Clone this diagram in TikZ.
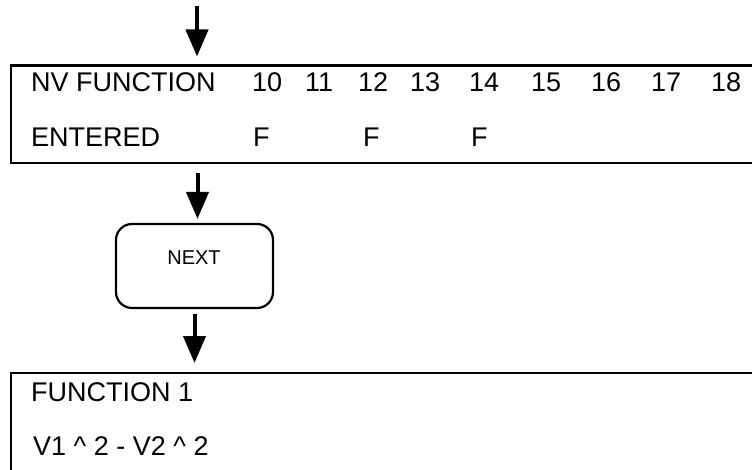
\documentclass[tikz,border=0pt]{standalone}
\usepackage{fontspec}
\setmainfont{Liberation Sans}
\usetikzlibrary{arrows.meta}

\begin{document}
\begin{tikzpicture}[x=1pt, y=-1pt,
  display/.style={draw, line width=2.4pt, rectangle, inner sep=0pt, anchor=north west, minimum width=800pt, minimum height=97.5pt},
  keybox/.style={draw, line width=2.2pt, rectangle, rounded corners=16pt, inner sep=0pt, minimum width=157pt, minimum height=84pt},
  txt/.style={anchor=base west, inner sep=0pt, font=\fontsize{27}{32}\selectfont},
  keytxt/.style={anchor=base, inner sep=0pt, font=\fontsize{20}{24}\selectfont},
  flow/.style={line width=4pt, -{Triangle[length=27pt,width=22pt]}}]

% Area del disegno
\useasboundingbox (0,0) rectangle (752,470);
\clip (0,0) rectangle (752,470);

% Display superiore
\node[display] (display1) at (10,64.5) {};
\node[txt] (nvlabel) at (31,92) {NV FUNCTION};
\node[txt] (entlabel) at (31,147) {ENTERED};
\foreach \n/\x in {10/252, 11/305, 12/358, 13/410, 14/469, 15/531, 16/591, 17/651, 18/711}
  \node[txt] (nv\n) at (\x,92) {\n};
\foreach \x [count=\i] in {253, 363, 471}
  \node[txt] (flag\i) at (\x,147) {F};

% Tasto NEXT
\node[keybox] (nextkey) at (194.5,266) {};
\node[keytxt] (nextlabel) at (194,265) {NEXT};

% Display inferiore
\node[display] (display2) at (10,372) {};
\node[txt] (funclabel) at (31,401) {FUNCTION 1};
\node[txt] (formula) at (33,455) {V1 \textasciicircum{} 2 - V2 \textasciicircum{} 2};

% Frecce
\coordinate (start) at (197,6);
\draw[flow, shorten >=8pt] (start) -- (start |- display1.north);
\draw[flow, shorten <=9pt, shorten >=4pt] ([xshift=3pt]display1.south -| nextkey.north) -- ([xshift=3pt]nextkey.north);
\draw[flow, shorten <=5pt, shorten >=9pt] (nextkey.south) -- (nextkey.south |- display2.north);
\end{tikzpicture}
\end{document}
